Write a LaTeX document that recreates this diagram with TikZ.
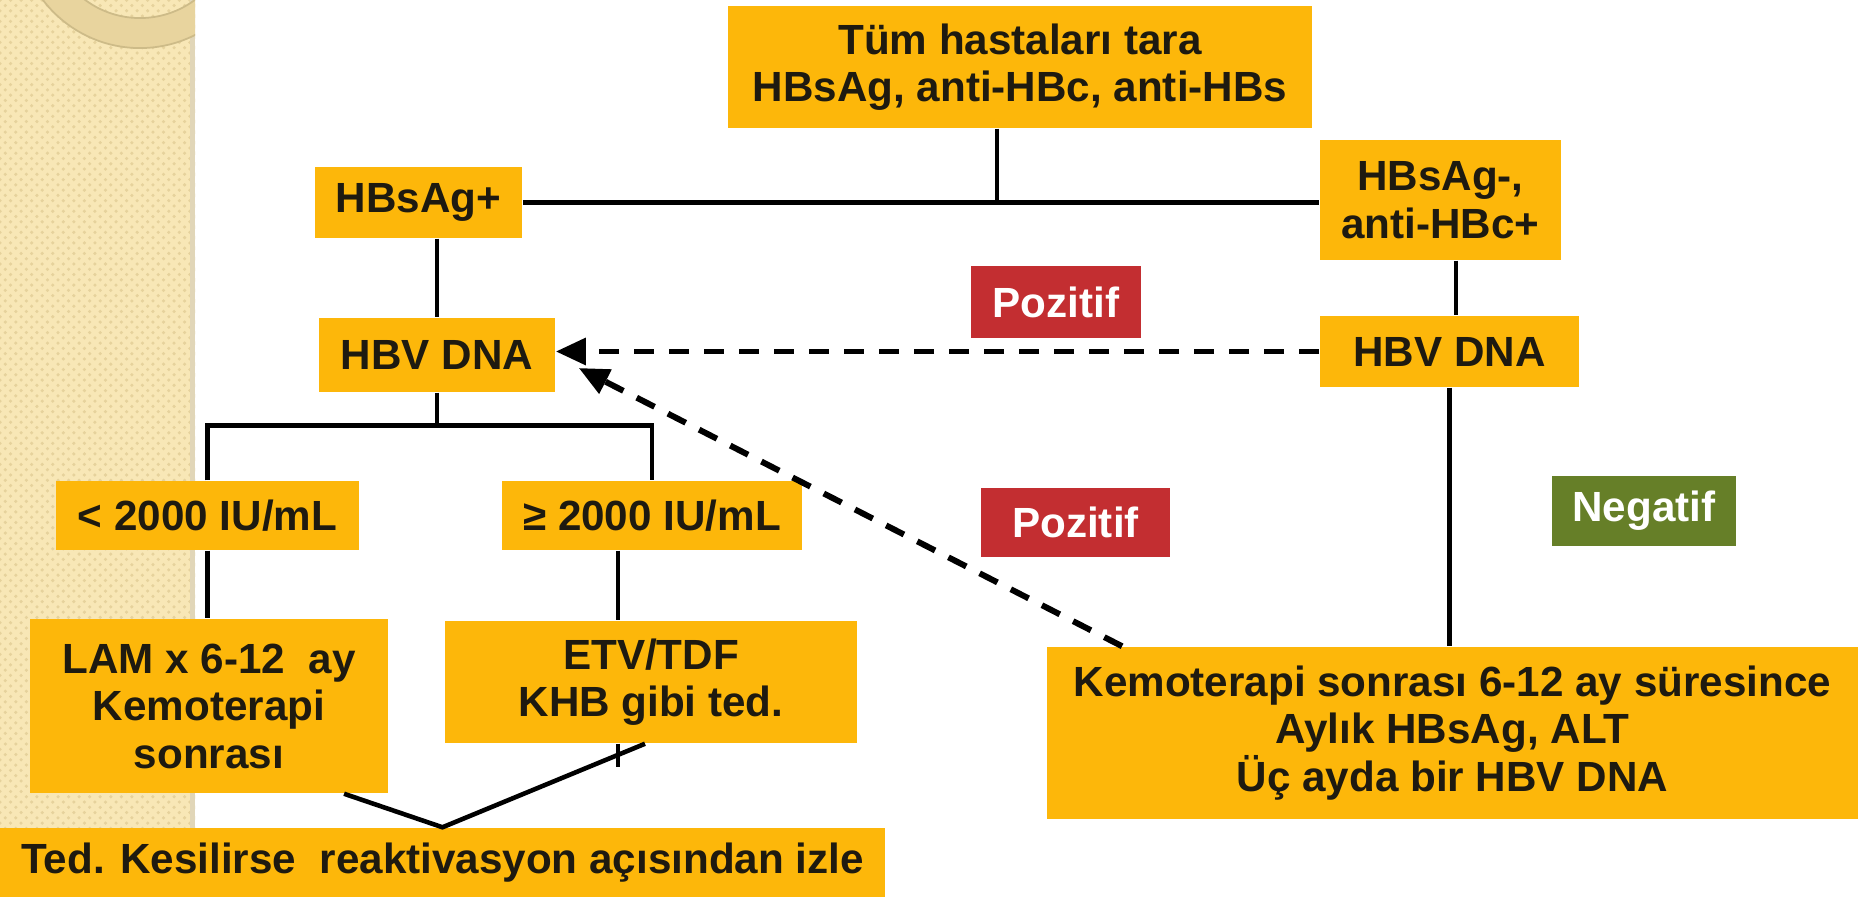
\documentclass[tikz,border=0pt]{standalone}
\usepackage{fontspec}
\setmainfont{Liberation Sans}
\usetikzlibrary{positioning,arrows.meta,patterns}
\definecolor{boxorange}{HTML}{FDB70A}
\definecolor{boxtext}{HTML}{1E1A10}
\definecolor{pozred}{HTML}{C32E31}
\definecolor{neggreen}{HTML}{667F28}
\definecolor{stripbg}{HTML}{F8E7B6}
\definecolor{stripdot}{HTML}{E6D29C}
\definecolor{ringcol}{HTML}{E8D49E}
\definecolor{ringedge}{HTML}{CDBB88}

\begin{document}
\begin{tikzpicture}[x=0.01cm,y=-0.01cm,
box/.style={fill=boxorange,text=boxtext,font=\bfseries\fontsize{12}{13.5}\selectfont,align=center,inner sep=0pt},
tag/.style={text=white,font=\bfseries\fontsize{12}{13.5}\selectfont,inner sep=0pt},
link/.style={line width=1.3pt},
jump/.style={line width=1.7pt,dash pattern=on 0.2cm off 0.15cm,-{Triangle[length=0.3cm,width=0.26cm]}}]

\useasboundingbox (0,0) rectangle (1862,897);
\fill[white] (0,0) rectangle (1862,897);
% side strip
\fill[stripbg] (0,0) rectangle (195,897);
\fill[pattern=crosshatch dots,pattern color=stripdot] (0,0) rectangle (195,897);
\fill[ringedge!60] (190,0) rectangle (195,897);
\begin{scope}
\clip (0,0) rectangle (195,897);
\fill[ringcol,even odd rule] (140,-74) circle[radius=1.22cm] (140,-74) circle[radius=0.92cm];
\draw[ringedge,line width=0.5pt] (140,-74) circle[radius=1.22cm] (140,-74) circle[radius=0.92cm];
\end{scope}

\node (screen) [box,minimum width=5.84cm,minimum height=1.22cm] at (1020,67) {Tüm hastaları tara\\HBsAg, anti-HBc, anti-HBs};
\node (hbspos) [box,minimum width=2.07cm,minimum height=0.71cm] at (418.5,202.5) {HBsAg+};
\node (hbsneg) [box,minimum width=2.41cm,minimum height=1.20cm] at (1440.5,200) {HBsAg-,\\anti-HBc+};
\node (hbvL) [box,minimum width=2.36cm,minimum height=0.74cm] at (437,355) {HBV DNA};
\node (hbvR) [box,minimum width=2.59cm,minimum height=0.71cm] at (1449.5,351.5) {HBV DNA};
\node (low) [box,minimum width=3.03cm,minimum height=0.69cm] at (207.5,515.5) {< 2000 IU/mL};
\node (high) [box,minimum width=3.00cm,minimum height=0.69cm] at (652,515.5) {≥ 2000 IU/mL};
\node (lam) [box,minimum width=3.58cm,minimum height=1.74cm] at (209,706) {LAM x 6-12\ \ ay\\Kemoterapi\\sonrası};
\node (etv) [box,minimum width=4.12cm,minimum height=1.22cm] at (651,682) {ETV/TDF\\KHB gibi ted.};
\node (follow) [box,minimum width=8.11cm,minimum height=1.72cm] at (1452.5,733) {Kemoterapi sonrası 6-12 ay süresince\\Aylık HBsAg, ALT\\Üç ayda bir HBV DNA};
\node (watch) [box,minimum width=8.85cm,minimum height=0.69cm] at (442.5,862.5) {Ted. Kesilirse\ \ reaktivasyon açısından izle};
\node (poz1) [tag,fill=pozred,minimum width=1.70cm,minimum height=0.72cm] at (1056,302) {Pozitif};
\node (poz2) [tag,fill=pozred,minimum width=1.89cm,minimum height=0.69cm] at (1075.5,522.5) {Pozitif};
\node (neg) [tag,fill=neggreen,minimum width=1.84cm,minimum height=0.70cm] at (1644,511) {Negatif};

% tree lines
\draw[link] ([xshift=-0.23cm]screen.south) -- ([xshift=-0.23cm]screen.south |- hbspos.east);
\draw[link] (hbspos.east) -- (hbspos.east -| hbsneg.west);
\draw[link] (hbspos.south -| hbvL.north) -- (hbvL.north);
\draw[link] ([xshift=0.065cm]hbsneg.south -| hbvR.north) -- ([xshift=0.065cm]hbvR.north);
\draw[link] (hbvL.south) -- ++(0,33) coordinate (fork);
\draw[link] (low.north) |- (fork) -| (high.north);
\draw[link] (low.south) -- (low.south |- lam.north);
\draw[link] ([xshift=-0.34cm]high.south) -- ([xshift=-0.34cm]high.south |- etv.north);
\draw[link] ([xshift=-0.33cm]etv.south) -- ++(0,23);
\draw[link] ([xshift=1.35cm]lam.south) -- (watch.north) -- ([xshift=-0.06cm]etv.south);
\draw[link] (hbvR.south) -- (hbvR.south |- follow.north);

% dashed returns
\draw[jump] (hbvR.west) -- (hbvR.west -| hbvL.east);
\draw[jump] ([xshift=0.76cm]follow.north west) -- ([shift={(23,13)}]hbvL.east);
\end{tikzpicture}
\end{document}
